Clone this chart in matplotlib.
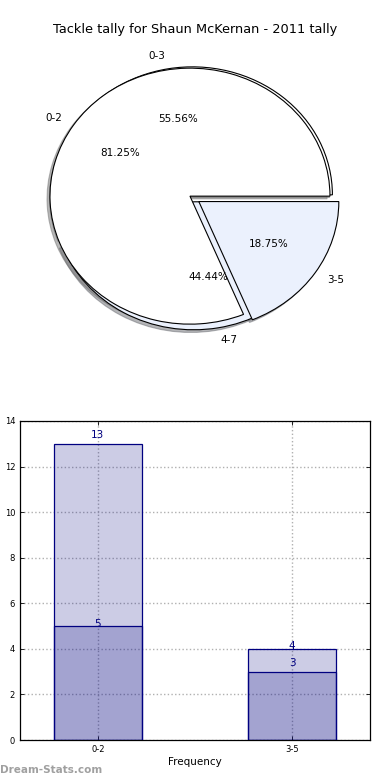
import numpy as np
import matplotlib
matplotlib.use('Agg')
import matplotlib.pyplot as plt

# data
title = "Tackle tally for Shaun McKernan - 2011 tally"
pie_a_labels = ['0-2', '3-5']
pie_a_values = [13, 3]
pie_b_labels = ['0-3', '4-7']
pie_b_values = [5, 4]

bar_cats = ['0-2', '3-5']
bar_total = [13, 4]
bar_part = [5, 3]

pie_colors = ['#FFFFFF', '#EBF1FD']
navy = 'navy'

fig = plt.figure(figsize=(3.9, 7.8), dpi=100)

# ---- pie part ----
shad = dict(ox=-0.015, oy=-0.015, shade=0.55)
ax1 = fig.add_axes([18/390, 1 - 358/780, 350/390, 320/780])
ax1.pie(pie_b_values, labels=pie_b_labels, colors=pie_colors, explode=(0.025, 0.03),
        autopct='%1.2f%%', shadow=shad, startangle=0,
        wedgeprops=dict(edgecolor='black', linewidth=0.8),
        textprops=dict(fontsize=7.5))
ax1.pie(pie_a_values, labels=pie_a_labels, colors=pie_colors, explode=(0.026, 0.05),
        autopct='%1.2f%%', shadow=shad, startangle=0,
        wedgeprops=dict(edgecolor='black', linewidth=0.8),
        textprops=dict(fontsize=7.5))
ax1.set_aspect('auto')
ax1.set_xlim(-1.25, 1.25)
ax1.set_ylim(-1.25, 1.25)
fig.text(0.5, 1 - 30/780, title, ha='center', va='center', fontsize=9.3)

# ---- bar part ----
ax2 = fig.add_axes([20/390, 40/780, 350/390, 319/780])
x = np.arange(len(bar_cats))
ax2.bar(x, bar_total, width=0.45, color=navy, alpha=0.2, zorder=2)
ax2.bar(x, bar_part, width=0.45, color=navy, alpha=0.2, zorder=2)
ax2.bar(x, bar_total, width=0.45, fill=False, edgecolor=navy, linewidth=0.9, zorder=3)
ax2.bar(x, bar_part, width=0.45, fill=False, edgecolor=navy, linewidth=0.9, zorder=3)

for i in range(len(bar_cats)):
    ax2.text(x[i], bar_total[i] * 1.03, str(bar_total[i]), ha='center', va='center',
             color=navy, fontsize=7.5, zorder=4)
    # the small bar label is nudged up when the two tops are close
    if bar_total[i] - bar_part[i] > 2:
        yp = bar_part[i] * 1.018
    else:
        yp = bar_part[i] + 0.38
    ax2.text(x[i], yp, str(bar_part[i]), ha='center', va='center',
             color=navy, fontsize=7.5, zorder=4)

ax2.set_xlim(-0.4, 1.4)
ax2.set_ylim(0, 14)
ax2.set_yticks(np.arange(0, 15, 2))
ax2.set_xticks(x)
ax2.set_xticklabels(bar_cats)
ax2.tick_params(direction='in', top=True, right=True, labelsize=6, length=3, width=0.6)
ax2.grid(True, color='#b0b0b0', linestyle=':', linewidth=1, zorder=1)
ax2.set_axisbelow(True)
ax2.set_xlabel('Frequency', fontsize=7.5, labelpad=2)
ax2.set_ylabel('Occurrences', fontsize=7.5)
ax2.yaxis.set_label_coords(-0.052, 0.5)
for s in ax2.spines.values():
    s.set_linewidth(0.9)

fig.text(0.0, 1 - 770/780, 'Dream-Stats.com', ha='left', va='center', fontsize=7.5,
         color='#a0a0a0', fontweight='bold')

fig.savefig('out.png', dpi=100)
